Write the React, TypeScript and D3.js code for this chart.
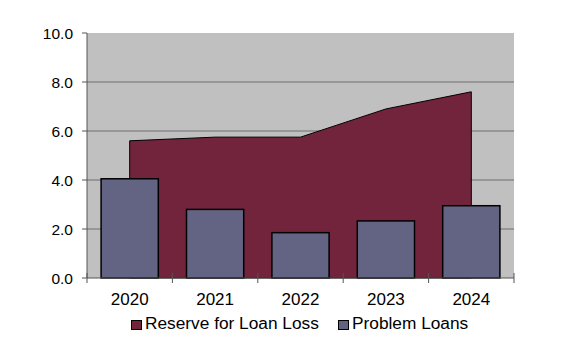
import React from "react";
import * as d3 from "d3";

const years = ["2020", "2021", "2022", "2023", "2024"];
const reserveForLoanLoss = [5.6, 5.75, 5.75, 6.9, 7.6];
const problemLoans = [4.05, 2.8, 1.85, 2.33, 2.95];
const yTicks = [0, 2, 4, 6, 8, 10];

const W = 573;
const H = 356;
const plot = { left: 87, right: 514, top: 33, bottom: 278 };
const FONT = "'Liberation Sans', Arial, sans-serif";

export default function App() {
  const x = d3
    .scaleBand<string>()
    .domain(years)
    .range([plot.left, plot.right])
    .paddingInner(0)
    .paddingOuter(0);
  const y = d3.scaleLinear().domain([0, 10]).range([plot.bottom, plot.top]);
  const bw = x.bandwidth();
  const cx = (d: string) => (x(d) as number) + bw / 2;
  const barW = bw * 0.67;

  const areaData = years.map((yr, i) => ({ yr, v: reserveForLoanLoss[i] }));
  const area = d3
    .area<{ yr: string; v: number }>()
    .x((d) => cx(d.yr))
    .y0(y(0))
    .y1((d) => y(d.v));

  const boundaries = [...years.map((d) => x(d) as number), plot.right];

  return (
    <svg
      width={W}
      height={H}
      style={{ position: "absolute", left: 0, top: 0, background: "#fff" }}
    >
      <rect
        x={plot.left}
        y={plot.top}
        width={plot.right - plot.left}
        height={plot.bottom - plot.top}
        fill="#C0C0C0"
      />
      {yTicks
        .filter((t) => t > 0 && t < 10)
        .map((t) => (
          <line
            key={"g" + t}
            x1={plot.left}
            x2={plot.right}
            y1={y(t)}
            y2={y(t)}
            stroke="#6e6e6e"
            strokeWidth={1}
          />
        ))}
      <path d={area(areaData) || ""} fill="#72243D" stroke="#000" strokeWidth={1} />
      {years.map((yr, i) => (
        <rect
          key={"b" + yr}
          x={cx(yr) - barW / 2}
          y={y(problemLoans[i])}
          width={barW}
          height={y(0) - y(problemLoans[i])}
          fill="#636384"
          stroke="#000"
          strokeWidth={1.5}
        />
      ))}
      {/* y axis */}
      <line x1={plot.left} x2={plot.left} y1={plot.top} y2={plot.bottom} stroke="#555" />
      {yTicks.map((t) => (
        <g key={"yt" + t}>
          <line x1={plot.left - 5} x2={plot.left} y1={y(t)} y2={y(t)} stroke="#555" />
          <text
            x={73}
            y={y(t) + 5.5}
            textAnchor="end"
            fontFamily={FONT}
            fontSize={15.5}
            fill="#000"
          >
            {t.toFixed(1)}
          </text>
        </g>
      ))}
      {/* x axis */}
      <line x1={plot.left} x2={plot.right} y1={plot.bottom} y2={plot.bottom} stroke="#555" />
      {boundaries.map((b, i) => (
        <line
          key={"xt" + i}
          x1={b}
          x2={b}
          y1={plot.bottom - 5}
          y2={plot.bottom + 5}
          stroke="#555"
        />
      ))}
      {years.map((yr) => (
        <text
          key={"xl" + yr}
          x={cx(yr)}
          y={305}
          textAnchor="middle"
          fontFamily={FONT}
          fontSize={17}
          fill="#000"
        >
          {yr}
        </text>
      ))}
      {/* legend */}
      <rect x={131.5} y={320.5} width={10} height={9} fill="#72243D" stroke="#000" />
      <text x={145} y={329} fontFamily={FONT} fontSize={17.3} fill="#000">
        Reserve for Loan Loss
      </text>
      <rect x={338.5} y={320.5} width={10} height={9} fill="#636384" stroke="#000" />
      <text x={352} y={329} fontFamily={FONT} fontSize={17.3} fill="#000">
        Problem Loans
      </text>
    </svg>
  );
}
